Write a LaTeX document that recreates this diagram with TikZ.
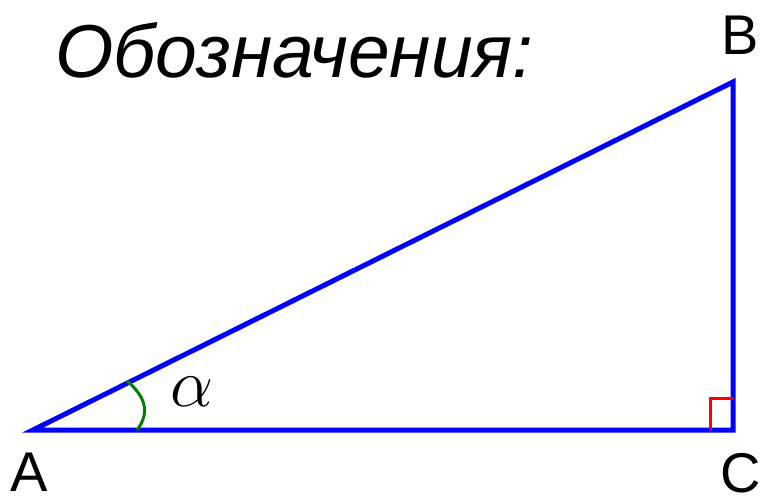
\documentclass[tikz,border=0pt]{standalone}
\usepackage{fontspec}
\setmainfont{Liberation Sans}
\definecolor{triblue}{RGB}{0,0,255}
\definecolor{angreen}{RGB}{0,128,0}
\definecolor{rightred}{RGB}{255,0,0}
\begin{document}
\begin{tikzpicture}[x=1pt,y=-1pt,
  side/.style={draw=triblue,line width=5pt,line join=miter},
  vlabel/.style={inner sep=0pt,anchor=base,font=\fontsize{56}{60}\selectfont},
  anglemark/.style={draw=angreen,line width=3pt},
  rightmark/.style={draw=rightred,line width=3pt}]
\useasboundingbox (0,0) rectangle (763,497);
\coordinate (A) at (33,430);
\coordinate (B) at (733,82);
\coordinate (C) at (733,430);
\draw[side] (A) -- (B) -- (C) -- cycle;
\coordinate (r1) at (710,430);
\coordinate (r2) at (710,398);
\coordinate (r3) at (733,398);
\draw[rightmark] (r1) -- (r2) -- (r3);
\coordinate (g1) at (137,430);
\coordinate (g2) at (127,381);
\draw[anglemark] (g1) .. controls (150,413) and (146,397) .. (g2);
\node[inner sep=0pt,anchor=base west,font=\fontsize{75}{80}\selectfont\itshape] (title) at (55,78) {Обозначения:};
\node[inner sep=0pt,font=\Huge,scale=2.75] (alpha) at (192,392) {$\alpha$};
\node[vlabel] (la) at (29,491) {A};
\node[vlabel] (lb) at (740,55) {B};
\node[vlabel] (lc) at (741,492) {C};
\end{tikzpicture}
\end{document}
